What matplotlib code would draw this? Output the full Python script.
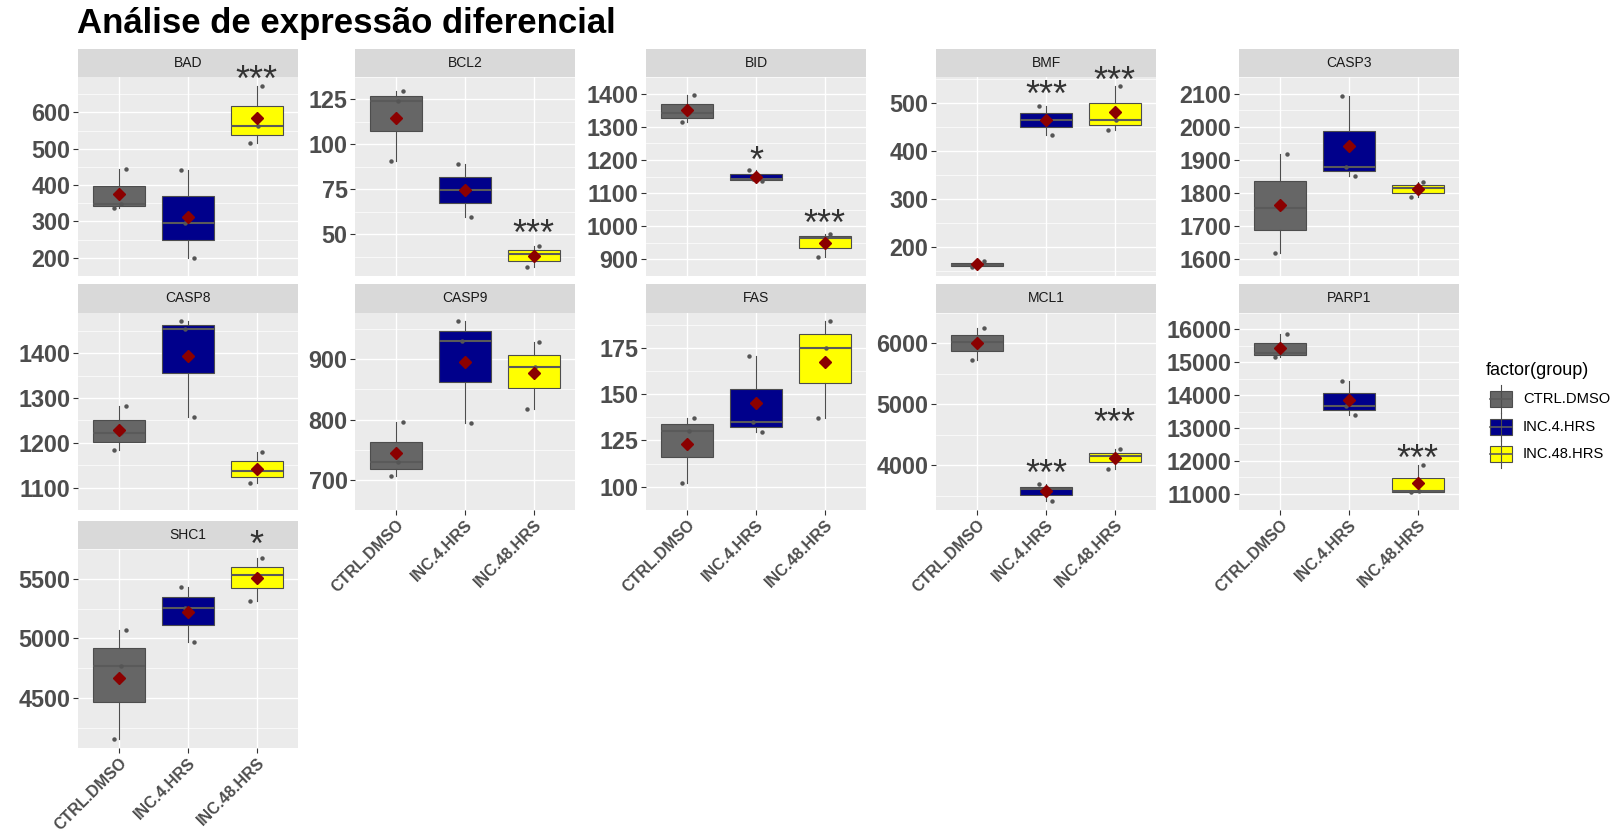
import matplotlib
matplotlib.use('Agg')
import matplotlib.pyplot as plt
from matplotlib.patches import Rectangle
from matplotlib.lines import Line2D
import numpy as np

plt.rcParams['font.family'] = ['Liberation Sans', 'DejaVu Sans']

# ---------------- data ----------------
groups = ['CTRL.DMSO', 'INC.4.HRS', 'INC.48.HRS']
group_colors = ['#666666', '#00008B', '#FFFF00']
genes = ['BAD', 'BCL2', 'BID', 'BMF', 'CASP3', 'CASP8', 'CASP9', 'FAS', 'MCL1', 'PARP1', 'SHC1']

# three replicate values per group: CTRL.DMSO, INC.4.HRS, INC.48.HRS
BAD = [[337, 349, 445], [200, 296, 442], [515, 562, 674]]
BCL2 = [[91.0, 124.0, 129.5], [59.7, 74.9, 89.2], [31.7, 38.9, 43.4]]
BID = [[1313, 1340, 1395], [1136, 1143, 1170], [906, 965, 976]]
BMF = [[158.6, 162.4, 171.0], [434.5, 465.4, 494.5], [445, 465, 536]]
CASP3 = [[1620, 1755, 1917], [1853, 1880, 2093], [1787, 1814, 1833]]
CASP8 = [[1183, 1222, 1282], [1257, 1455, 1472], [1110, 1138, 1179]]
CASP9 = [[706, 730, 796], [794, 930, 964], [817, 888, 928]]
FAS = [[102.1, 130.3, 137.1], [129.7, 135.2, 170.4], [137.1, 175.0, 189.4]]
MCL1 = [[5723, 6030, 6261], [3410, 3604, 3702], [3937, 4160, 4261]]
PARP1 = [[15172, 15280, 15868], [13401, 13680, 14440], [11055, 11065, 11885]]
SHC1 = [[4155, 4770, 5073], [4972, 5255, 5436], [5311, 5530, 5676]]

values = {'BAD': BAD, 'BCL2': BCL2, 'BID': BID, 'BMF': BMF, 'CASP3': CASP3,
          'CASP8': CASP8, 'CASP9': CASP9, 'FAS': FAS, 'MCL1': MCL1,
          'PARP1': PARP1, 'SHC1': SHC1}

y_ticks = {
    'BAD': [200, 300, 400, 500, 600],
    'BCL2': [50, 75, 100, 125],
    'BID': [900, 1000, 1100, 1200, 1300, 1400],
    'BMF': [200, 300, 400, 500],
    'CASP3': [1600, 1700, 1800, 1900, 2000, 2100],
    'CASP8': [1100, 1200, 1300, 1400],
    'CASP9': [700, 800, 900],
    'FAS': [100, 125, 150, 175],
    'MCL1': [4000, 5000, 6000],
    'PARP1': [11000, 12000, 13000, 14000, 15000, 16000],
    'SHC1': [4500, 5000, 5500],
}

# significance labels and their y positions (data units)
sig_labels = {
    'BAD': ['', '', '***'], 'BCL2': ['', '', '***'], 'BID': ['', '*', '***'],
    'BMF': ['', '***', '***'], 'MCL1': ['', '***', '***'],
    'PARP1': ['', '', '***'], 'SHC1': ['', '', '*'],
}
sig_y = {
    'BAD': [0, 0, 700], 'BCL2': [0, 0, 52.4], 'BID': [0, 1211, 1021],
    'BMF': [0, 526, 555], 'MCL1': [0, 3922, 4758],
    'PARP1': [0, 0, 12177], 'SHC1': [0, 0, 5822],
}

title = 'Análise de expressão diferencial'
legend_title = 'factor(group)'

# ---------------- layout (pixels) ----------------
W, H = 1610, 834
fig = plt.figure(figsize=(W / 100, H / 100), dpi=100)
fig.patch.set_facecolor('white')

col_left = [78, 355, 646, 936, 1239]
panel_w = 220
row_strip_top = [49, 284, 521]
row_panel_top = [77, 313, 549]
row_panel_bot = [276, 510, 748]
ncol = 5
# panels that show x-axis labels (bottom of each column)
bottom_panels = {'SHC1', 'CASP9', 'FAS', 'MCL1', 'PARP1'}

jitter = [[-0.08, 0.03, 0.1], [0.09, -0.05, -0.1], [-0.1, 0.02, 0.08]]

for gi, gene in enumerate(genes):
    r, c = divmod(gi, ncol)
    L = col_left[c]
    top, bot = row_panel_top[r], row_panel_bot[r]
    ph = bot - top
    ax = fig.add_axes([L / W, 1 - bot / H, panel_w / W, ph / H])
    ax.set_facecolor('#EBEBEB')
    for s in ax.spines.values():
        s.set_visible(False)

    data = values[gene]
    pos = [1, 2, 3]
    bp = ax.boxplot(data, positions=pos, widths=0.75, whis=(0, 100),
                    showcaps=False, showfliers=False, patch_artist=True,
                    manage_ticks=False, zorder=2,
                    boxprops=dict(linewidth=0.8, edgecolor='#4D4D4D'),
                    whiskerprops=dict(linewidth=0.8, color='#4D4D4D'),
                    medianprops=dict(linewidth=1.5, color='#5A5A5A'))
    for patch, col in zip(bp['boxes'], group_colors):
        patch.set_facecolor(col)

    for k, vals in enumerate(data):
        xs = [pos[k] + j for j in jitter[k]]
        ax.plot(xs, vals, 'o', ms=3.2, color='#555555', mec='none', zorder=3)
        ax.plot([pos[k]], [np.mean(vals)], 'D', ms=6.2, color='#8B0000',
                mec='#8B0000', zorder=4)

    allv = np.concatenate([np.asarray(v, float) for v in data])
    lo, hi = allv.min(), allv.max()
    pad = 0.05 * (hi - lo)
    ax.set_ylim(lo - pad, hi + pad)
    ax.set_xlim(0.4, 3.6)

    yt = y_ticks[gene]
    step = yt[1] - yt[0]
    minors = [yt[0] - step / 2] + [t + step / 2 for t in yt]
    ax.set_yticks(yt, [str(t) for t in yt], fontweight='bold')
    ax.set_yticks(minors, minor=True)
    ax.tick_params(axis='y', which='major', length=3.4, width=0.8, color='#333333',
                   labelsize=16.8, labelcolor='#4D4D4D', pad=2)
    ax.tick_params(axis='y', which='minor', length=0)
    ax.set_xticks(pos)
    ax.grid(which='major', color='white', linewidth=1.0, zorder=0)
    ax.grid(which='minor', axis='y', color='white', linewidth=0.5, zorder=0)
    ax.set_axisbelow(True)

    if gene in bottom_panels:
        ax.set_xticklabels(groups, rotation=45, ha='right', va='top',
                           rotation_mode='anchor', fontweight='bold')
        ax.tick_params(axis='x', length=3.4, width=0.8, color='#333333',
                       labelsize=11.5, labelcolor='#4D4D4D', pad=1.5)
    else:
        ax.tick_params(axis='x', length=0, labelbottom=False)

    # strip
    sh = (top - row_strip_top[r]) / ph
    ax.add_patch(Rectangle((0, 1), 1, sh, transform=ax.transAxes,
                           facecolor='#D9D9D9', edgecolor='none',
                           clip_on=False, zorder=1))
    ax.text(0.5, 1 + sh / 2, gene, transform=ax.transAxes, ha='center',
            va='center', fontsize=10, color='#1A1A1A', zorder=5)

    # significance stars
    if gene in sig_labels:
        for k, lab in enumerate(sig_labels[gene]):
            if lab:
                ax.annotate(lab, xy=(pos[k], sig_y[gene][k]), xytext=(0, -11),
                            textcoords='offset points', ha='center',
                            va='baseline', fontsize=26, color='#333333',
                            annotation_clip=False, zorder=10)

# ---------------- overlay: title + legend ----------------
fa = fig.add_axes([0, 0, 1, 1])
fa.set_xlim(0, W)
fa.set_ylim(H, 0)
fa.axis('off')
fa.patch.set_visible(False)

fa.text(77, 33, title, fontsize=25, fontweight='bold', ha='left',
        va='baseline', color='black')

fa.text(1486, 370, legend_title, fontsize=13, ha='left', va='center',
        color='black')
for i, (g, col) in enumerate(zip(groups, group_colors)):
    cy = 399 + 27.6 * i
    fa.add_line(Line2D([1501, 1501], [cy - 14, cy + 14], color='#4D4D4D', lw=0.8))
    fa.add_patch(Rectangle((1490, cy - 8), 22, 16, facecolor=col,
                           edgecolor='#4D4D4D', lw=0.8))
    fa.add_line(Line2D([1490, 1512], [cy, cy], color='#5A5A5A', lw=1.2))
    fa.text(1523, cy, g, fontsize=10.6, ha='left', va='center', color='black')

fig.savefig('out.png', dpi=100)
